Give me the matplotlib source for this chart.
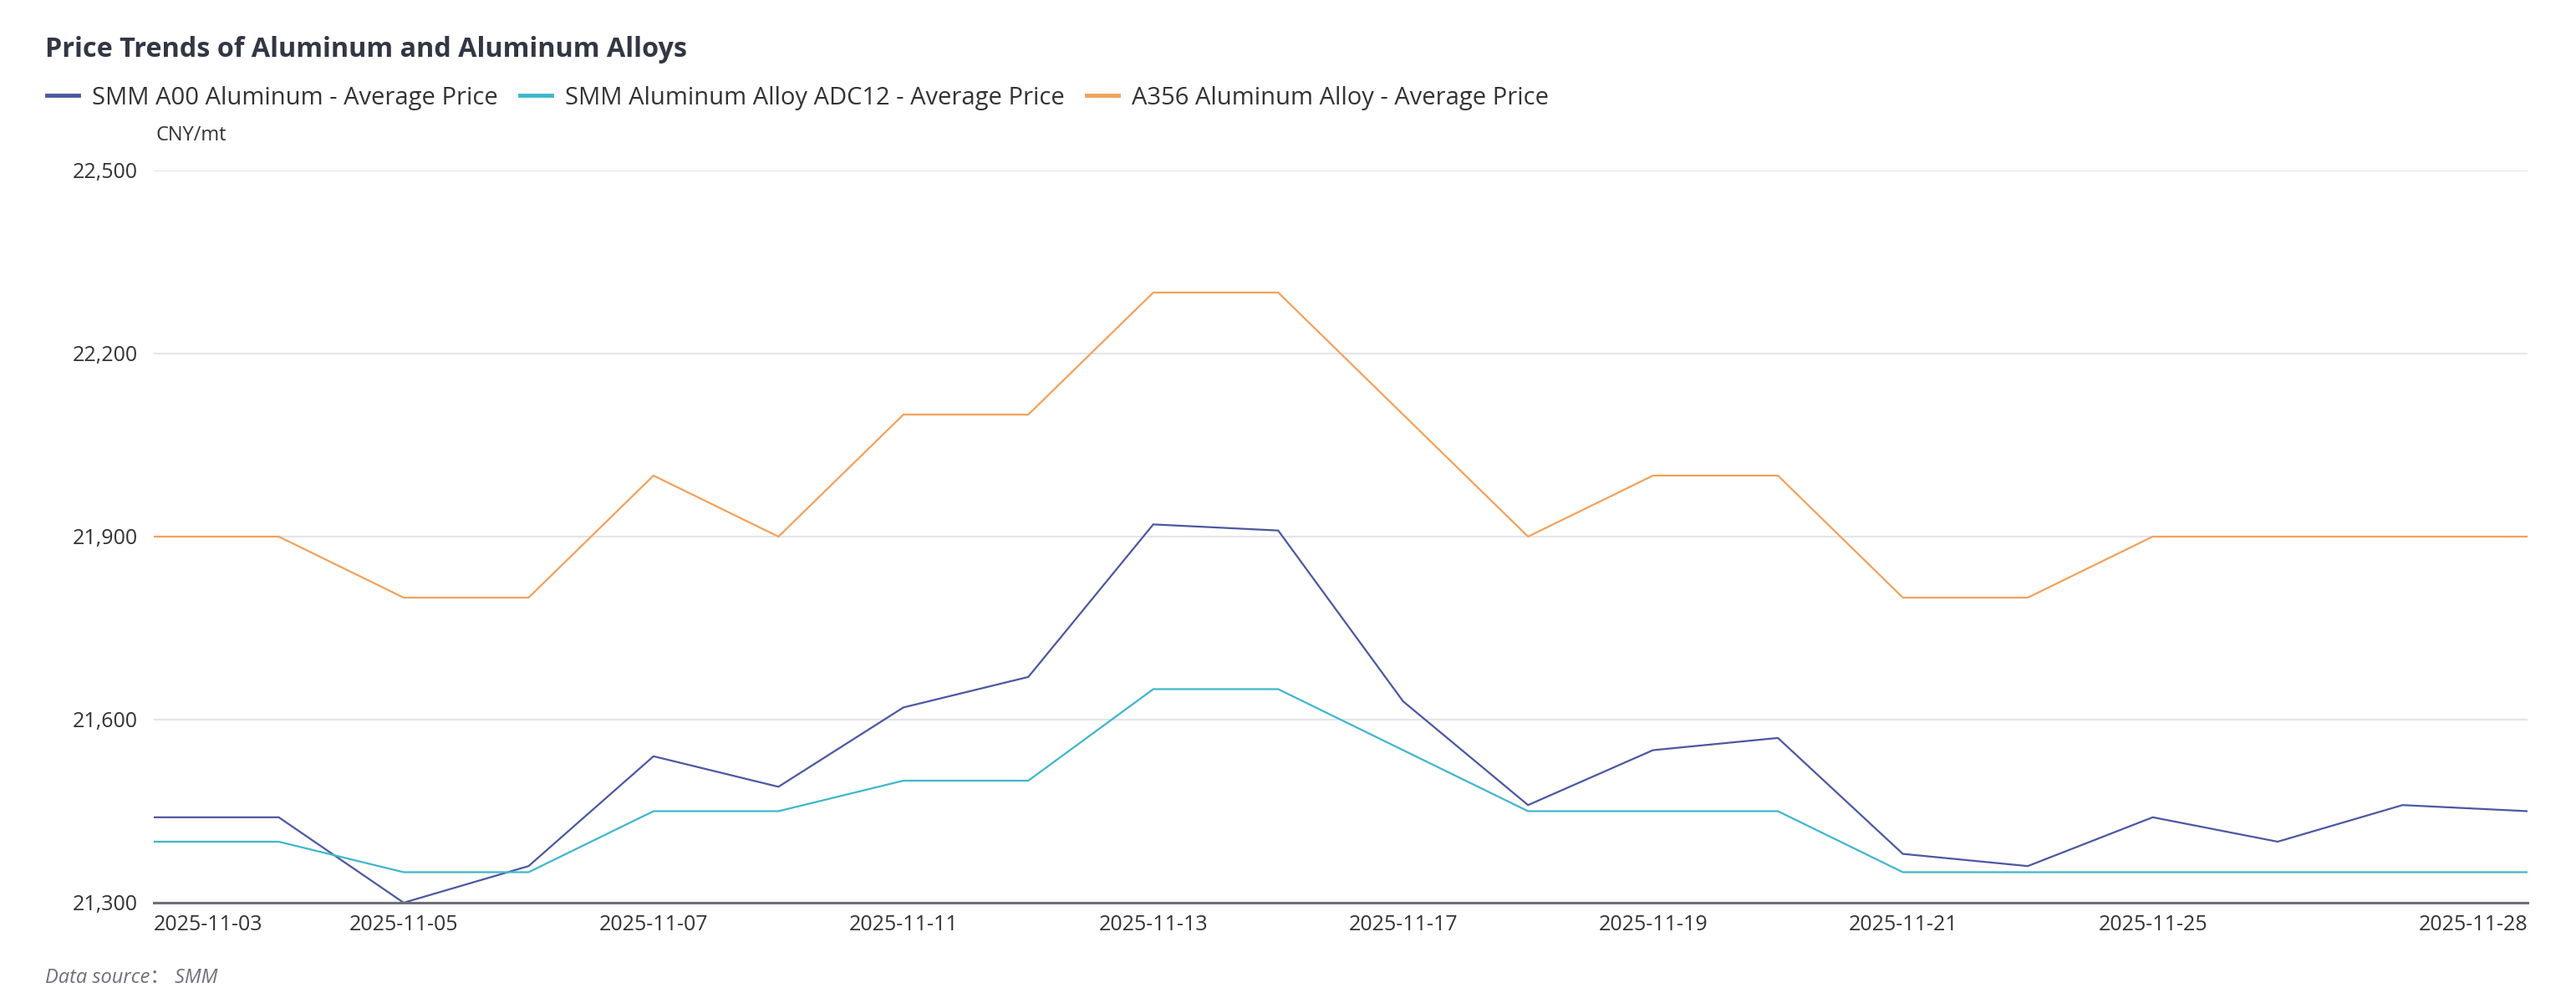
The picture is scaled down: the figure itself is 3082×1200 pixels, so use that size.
import matplotlib
matplotlib.use('Agg')
import matplotlib.pyplot as plt
from matplotlib.ticker import FuncFormatter

plt.rcParams['font.family'] = ['Open Sans', 'Noto Sans CJK SC', 'DejaVu Sans']

dates = ['2025-11-03', '2025-11-04', '2025-11-05', '2025-11-06', '2025-11-07',
         '2025-11-10', '2025-11-11', '2025-11-12', '2025-11-13', '2025-11-14',
         '2025-11-17', '2025-11-18', '2025-11-19', '2025-11-20', '2025-11-21',
         '2025-11-24', '2025-11-25', '2025-11-26', '2025-11-27', '2025-11-28']
a00 = [21440, 21440, 21300, 21360, 21540, 21490, 21620, 21670, 21920, 21910,
       21630, 21460, 21550, 21570, 21380, 21360, 21440, 21400, 21460, 21450]
adc12 = [21400, 21400, 21350, 21350, 21450, 21450, 21500, 21500, 21650, 21650,
         21550, 21450, 21450, 21450, 21350, 21350, 21350, 21350, 21350, 21350]
a356 = [21900, 21900, 21800, 21800, 22000, 21900, 22100, 22100, 22300, 22300,
        22100, 21900, 22000, 22000, 21800, 21800, 21900, 21900, 21900, 21900]
names = ['SMM A00 Aluminum - Average Price',
         'SMM Aluminum Alloy ADC12 - Average Price',
         'A356 Aluminum Alloy - Average Price']
colors = ['#4b58a0', '#3fb6cc', '#f4a15b']
yticks = [21300, 21600, 21900, 22200, 22500]
shown_ticks = [0, 2, 4, 6, 8, 10, 12, 14, 16, 19]

fig = plt.figure(figsize=(30.82, 12), dpi=100)
ax = fig.add_axes([184 / 3082, 1 - 1080 / 1200, (3024 - 184) / 3082, (1080 - 204) / 1200])

x = list(range(len(dates)))
lines = []
for vals, name, c in zip([a00, adc12, a356], names, colors):
    ln, = ax.plot(x, vals, color=c, lw=1.6, label=name, solid_joinstyle='miter')
    lines.append(ln)

ax.set_xlim(0, len(dates) - 1)
ax.set_ylim(yticks[0], yticks[-1])
ax.set_yticks(yticks)
ax.yaxis.set_major_formatter(FuncFormatter(lambda v, p: f'{int(v):,}'))
ax.grid(axis='y', color='#e4e5ea', lw=1.6)
ax.set_axisbelow(True)
for s in ['top', 'right', 'left']:
    ax.spines[s].set_visible(False)
ax.spines['bottom'].set_color('#6e7079')
ax.spines['bottom'].set_linewidth(2.2)
ax.tick_params(axis='both', length=0, labelsize=18, colors='#333333')
ax.tick_params(axis='x', pad=10)
ax.tick_params(axis='y', pad=14)

ax.set_xticks(shown_ticks)
ax.set_xticklabels([dates[i] for i in shown_ticks])
tl = ax.get_xticklabels()
tl[0].set_ha('left')
tl[-1].set_ha('right')

fig.text(54 / 3082, 1 - 60 / 1200, 'Price Trends of Aluminum and Aluminum Alloys',
         fontsize=23.3, fontweight='bold', color='#333744', va='center', ha='left')
fig.legend(lines, names, loc='center left', bbox_to_anchor=(30 / 3082, 1 - 117 / 1200),
           ncol=3, frameon=False, fontsize=21, handlelength=1.3, handletextpad=0.55,
           columnspacing=0.9, labelcolor='#333333')
for lh in fig.legends[0].get_lines():
    lh.set_linewidth(3.5)
fig.text(186 / 3082, 1 - 162 / 1200, 'CNY/mt', fontsize=17, color='#333333',
         va='center', ha='left')
fig.text(54 / 3082, 1 - 1170 / 1200, 'Data source\uff1a SMM', fontsize=17, style='italic',
         color='#6e7079', va='center', ha='left')

fig.savefig('out.png', dpi=100)
